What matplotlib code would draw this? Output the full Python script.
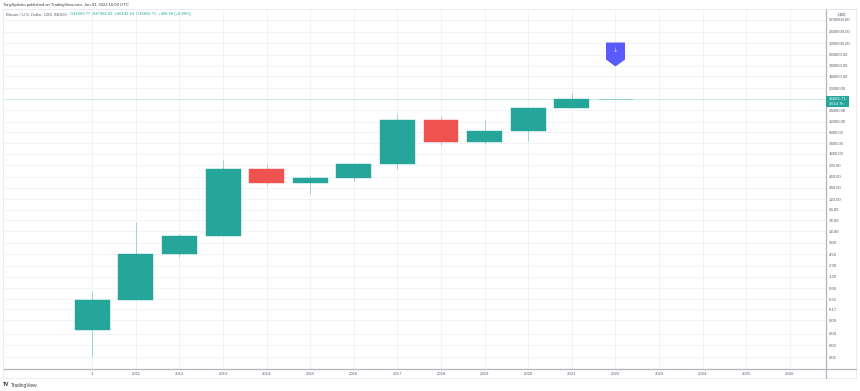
import matplotlib
matplotlib.use("Agg")
import matplotlib.pyplot as plt
from matplotlib.lines import Line2D
from matplotlib.patches import Rectangle
from matplotlib.path import Path

plt.rcParams['font.family'] = ['Liberation Sans', 'DejaVu Sans']

# Yearly BTC candles
periods = ["1", "2011", "2012", "2013", "2014", "2015", "2016", "2017", "2018",
           "2019", "2020", "2021", "2022", "2023", "2024", "2025", "2026"]
opens = [0.05, 0.30, 4.6, 13.4, 727, 315, 427, 975, 13400, 3615, 6970, 28200, 46203.77]
highs = [0.51, 31, 15.2, 1240, 975, 507, 975, 19100, 17000, 13400, 28900, 66800, 47981.43]
lows = [0.01, 0.30, 3.85, 13.4, 280, 164, 355, 727, 3020, 3215, 3840, 28200, 46192.24]
closes = [0.30, 4.6, 13.4, 727, 315, 427, 975, 13400, 3615, 6970, 28200, 46194.21, 46602.71]

price_ticks = [0.01, 0.02, 0.04, 0.09, 0.17, 0.31, 0.60, 1.20, 2.30, 4.50, 9, 18, 34, 64,
               120, 240, 460, 900, 1800, 3400, 6400, 12000, 24000, 90000, 180000, 340000,
               660000, 1300000, 2600000, 5200000, 10000000]
last_price = 46602.71
flag_price = 333000  # tip of the blue flag
flag_period = 12

TEAL = '#26a69a'
RED = '#ef5350'
GRID = '#f0f3fa'
AXIS = '#b2b5be'
TEXT = '#5d606b'
W, H = 860, 391

fig = plt.figure(figsize=(8.6, 3.91), dpi=100, facecolor='white')
ax = fig.add_axes([3 / W, 1 - 369 / H, 823 / W, 360 / H])
ax.set_yscale('log')
ax.set_xlim(-2.048, 16.83)
ax.set_ylim(10 ** -2.31, 10 ** 6.997)

# grid
ax.set_axisbelow(True)
ax.set_xticks(range(len(periods)))
ax.set_xticklabels(periods)
ax.set_yticks(price_ticks)
ax.set_yticklabels([f"{p:.2f}" for p in price_ticks])
ax.minorticks_off()
ax.grid(True, color=GRID, lw=0.7)
ax.yaxis.tick_right()
ax.tick_params(axis='both', length=0, labelsize=3.1, labelcolor=TEXT)
ax.tick_params(axis='x', pad=2.3)
ax.tick_params(axis='y', pad=2.2)

for name in ['top', 'left']:
    ax.spines[name].set_color('#e6e9f0')
    ax.spines[name].set_linewidth(0.6)
for name in ['right', 'bottom']:
    ax.spines[name].set_color(AXIS)
    ax.spines[name].set_linewidth(0.9)

# the top label is cut off by the edge of the pane
top_clip = Rectangle((826 / W, 0), 34 / W, 1 - 9 / H, transform=fig.transFigure)
ax.get_yticklabels()[-1].set_clip_path(top_clip)
ax.get_yticklabels()[-1].set_clip_on(True)

# last price line
ax.axhline(last_price, color=TEAL, lw=0.7, alpha=0.22, zorder=1.5)

# candles
for i in range(len(opens)):
    color = TEAL if closes[i] >= opens[i] else RED
    ax.vlines(i, lows[i], highs[i], color=color, lw=0.72, alpha=0.4, zorder=2)
    low_body = min(opens[i], closes[i])
    high_body = max(opens[i], closes[i])
    if i == flag_period:
        ax.bar(i, high_body - low_body, bottom=low_body, width=0.8, color=color,
               edgecolor=color, lw=0.6, alpha=0.45, zorder=3)
    else:
        ax.bar(i, high_body - low_body, bottom=low_body, width=0.8, color=color,
               edgecolor=color, lw=0.3, zorder=3)

# flag marker above the current candle
flag = Path([(-9.5, 24), (9.5, 24), (9.5, 7), (0, 0), (-9.5, 7), (-9.5, 24)], closed=True)
ax.plot([flag_period], [flag_price], marker=flag, markersize=34.56, color='#5b5bfb',
        markeredgewidth=0, zorder=5, clip_on=False)
ax.annotate("\u2193", (flag_period, flag_price), xytext=(0, 11.5), textcoords='offset points',
            ha='center', va='center', fontsize=4.5, color='#dcdcff', zorder=6,
            family=['DejaVu Sans'])

# last price box on the price scale
price_box = Path([(0, 3), (23, 3), (23, -8), (0, -8), (0, 3)], closed=True)
ax.plot([1], [last_price], transform=ax.get_yaxis_transform(), marker=price_box, markersize=33.12,
        color=TEAL, markeredgewidth=0, zorder=6, clip_on=False)
ax.annotate(f"{last_price:.2f}", (1, last_price), xycoords=ax.get_yaxis_transform(),
            xytext=(2.2, 0.2), textcoords='offset points', va='center', ha='left',
            fontsize=3.1, color='white', zorder=7, annotation_clip=False)
ax.annotate("361d 7h", (1, last_price), xycoords=ax.get_yaxis_transform(),
            xytext=(2.2, -3.4), textcoords='offset points', va='center', ha='left',
            fontsize=2.9, color='white', zorder=7, annotation_clip=False)

# outer frame of the snapshot
for xs, ys in [((826, 856), (9, 9)), ((856, 856), (9, 378)), ((3, 856), (378, 378)), ((3, 3), (369, 378))]:
    fig.add_artist(Line2D([x / W for x in xs], [1 - y / H for y in ys], color='#e6e9f0', lw=0.6))
fig.add_artist(Line2D([826 / W, 856 / W], [1 - 369 / H] * 2, color=AXIS, lw=0.9))
fig.add_artist(Line2D([826 / W, 826 / W], [1 - 378 / H, 1 - 369 / H], color=AXIS, lw=0.9))

# header texts
fig.text(3 / W, 1 - 5.3 / H, "TonySpilotro published on TradingView.com, Jan 03, 2022 16:09 UTC",
         fontsize=3.0, color='#3a3d46', va='center')
fig.text(6 / W, 1 - 14.5 / H, "Bitcoin / U.S. Dollar, 12M, INDEX", fontsize=2.95, color=TEXT, va='center')
fig.text(70 / W, 1 - 14.5 / H,
         "O46203.77  H47981.43  L46192.24  C46602.71  +408.50 (+0.88%)",
         fontsize=2.95, color=TEAL, va='center')
fig.text(841.5 / W, 1 - 14.5 / H, "USD", fontsize=2.9, color=TEXT, va='center', ha='center',
         bbox=dict(facecolor='#f0f3fa', edgecolor='none', pad=0.6))
fig.text(11 / W, 1 - 385 / H, "TradingView", fontsize=3.4, color='#3a3d46', va='center')
fig.text(3 / W, 1 - 385 / H, "TV", fontsize=3.6, color='#131722', va='center', weight='bold')

fig.savefig("out.png", dpi=100)
